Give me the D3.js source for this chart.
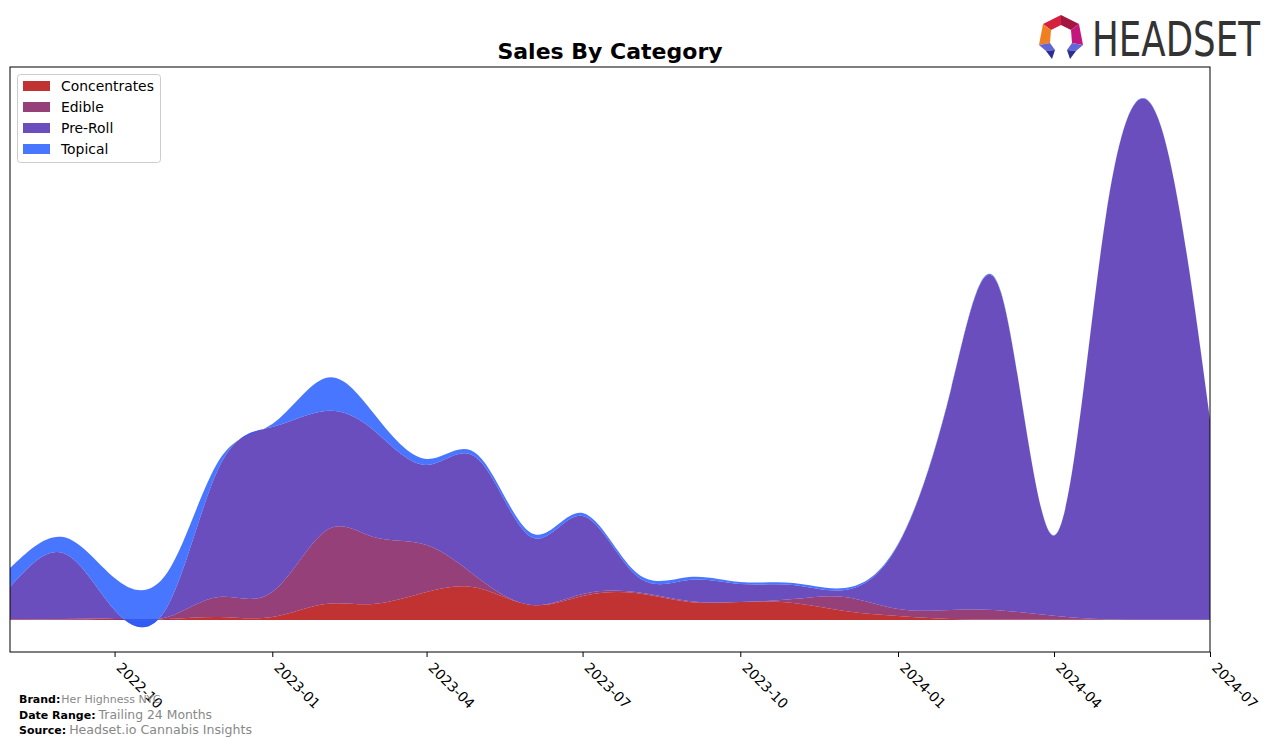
<!DOCTYPE html>
<html><head><meta charset="utf-8">
<script src="https://cdn.jsdelivr.net/npm/d3@7"></script>
<style>body{margin:0;background:#fff;} svg{display:block;font-family:"DejaVu Sans",sans-serif;}</style>
</head><body><svg id="c" width="1276" height="747"></svg>
<script>
const months = ["2022-08","2022-09","2022-10","2022-11","2022-12","2023-01","2023-02","2023-03","2023-04","2023-05","2023-06","2023-07","2023-08","2023-09","2023-10","2023-11","2023-12","2024-01","2024-02","2024-03","2024-04","2024-05","2024-06","2024-07"];
const concentrates = [0.5,0.5,1,1,3,3,16,16,28,32,15,24,27,18,18,17,9,4,1,0.5,0.3,0.3,0.3,0.3];
const edible = [0.5,0.5,0,2,20,25,73,67,47,10,0,2,1,1,0,4,14,7,9,9,4,0.5,0,0];
const preRoll = [32,66,9,11,130,165,120,107,80,119,68,78,17,21,18,14,7,64,221,318,80,400,500,200];
const topical = [19,16,32,34,7,3,33,17,6,4,4,3,3,3,2,2,2,1,1,1,0.5,0.5,0.5,0.5];
const categories = ["Concentrates","Edible","Pre-Roll","Topical"];
const colors = ["rgb(182,15,15)","rgb(131,30,96)","rgb(80,47,178)","rgb(40,94,255)"];
const xTickLabels = ["2022-10","2023-01","2023-04","2023-07","2023-10","2024-01","2024-04","2024-07"];

const svg = d3.select("#c");
const parse = d3.timeParse("%Y-%m");
const series = [concentrates, edible, preRoll, topical];
const rows = months.map((m,i)=>{const r={date:parse(m)}; categories.forEach((c,k)=>r[c]=series[k][i]); return r;});
const stacked = d3.stack().keys(categories)(rows);

const L=10,R=1210,T=67,B=652;
const x = d3.scaleTime().domain([parse(months[0]), parse(months[months.length-1])]).range([L,R]);
const y = d3.scaleLinear().domain([-32,553]).range([B,T]);

svg.append("defs").append("clipPath").attr("id","clip").append("rect")
  .attr("x",L).attr("y",T).attr("width",R-L).attr("height",B-T);

const area = d3.area().x(d=>x(d.data.date)).y0(d=>y(d[0])).y1(d=>y(d[1])).curve(d3.curveNatural);
svg.append("g").attr("clip-path","url(#clip)").selectAll("path").data(stacked).join("path")
  .attr("d",area).attr("fill",(d,i)=>colors[i]).attr("fill-opacity",0.85);

svg.append("rect").attr("x",L).attr("y",T).attr("width",R-L).attr("height",B-T)
  .attr("fill","none").attr("stroke","#000").attr("stroke-width",1);

const ax = svg.append("g").attr("transform",`translate(0,${B})`)
  .call(d3.axisBottom(x).tickValues(xTickLabels.map(parse)).tickFormat(d3.timeFormat("%Y-%m")).tickSize(5).tickPadding(0));
ax.select(".domain").remove();
ax.selectAll(".tick line").attr("stroke","#000");
ax.selectAll(".tick text").attr("font-family","DejaVu Sans").attr("font-size",13.9).attr("fill","#000")
  .attr("text-anchor","start").attr("y",0).attr("dy","0.76em")
  .attr("transform","translate(8,9) rotate(45)");

svg.append("text").attr("x",610).attr("y",59).attr("text-anchor","middle")
  .attr("font-size",22).attr("font-weight","bold").text("Sales By Category");

// legend
const lg = svg.append("g");
lg.append("rect").attr("x",17.5).attr("y",74.5).attr("width",143).attr("height",88).attr("rx",3)
  .attr("fill","#fff").attr("fill-opacity",0.8).attr("stroke","#ccc");
categories.forEach((c,i)=>{
  const cy = 86 + i*21;
  lg.append("rect").attr("x",23).attr("y",cy-5).attr("width",27).attr("height",10).attr("fill",colors[i]).attr("fill-opacity",0.85);
  lg.append("text").attr("x",61).attr("y",cy+5).attr("font-size",13.9).text(c);
});

// footer
const foot = [["Brand:","Her Highness NYC",703,11],["Date Range:","Trailing 24 Months",719,12.4],["Source:","Headset.io Cannabis Insights",734,12.6]];
foot.forEach(f=>{
  const t = svg.append("text").attr("x",19).attr("y",f[2]);
  t.append("tspan").attr("font-size",11).attr("font-weight","bold").attr("fill","#000").text(f[0]);
  t.append("tspan").attr("font-size",f[3]).attr("fill","#888").attr("dx",f[0]==="Brand:"?1:3).text(f[1]);
});

// logo
const lgo = svg.append("g");
const polys = [
  ["#d4213d",[[1043,24],[1061,15],[1061,25],[1051,30]]],
  ["#a3163f",[[1061,15],[1079,24],[1071,30],[1061,25]]],
  ["#f07f23",[[1043,24],[1051,30],[1050,43],[1039,45]]],
  ["#c4177d",[[1079,24],[1083,45],[1072,43],[1071,30]]],
  ["#6466d8",[[1039,45],[1050,43],[1055,50],[1046,51]]],
  ["#2b2f8f",[[1046,51],[1055,50],[1052,59]]],
  ["#6466d8",[[1083,45],[1072,43],[1067,50],[1076,51]]],
  ["#2b2f8f",[[1076,51],[1067,50],[1070,59]]]
];
polys.forEach(p=>lgo.append("polygon").attr("points",p[1].map(q=>q.join(",")).join(" ")).attr("fill",p[0]));
lgo.append("text").attr("transform","translate(1092,56) scale(1,1.12)")
  .attr("font-family","'Liberation Sans Narrow','DejaVu Sans Condensed',sans-serif").attr("font-size",43)
  .attr("fill","#333").attr("textLength",168).attr("lengthAdjust","spacingAndGlyphs").text("HEADSET");
</script></body></html>
